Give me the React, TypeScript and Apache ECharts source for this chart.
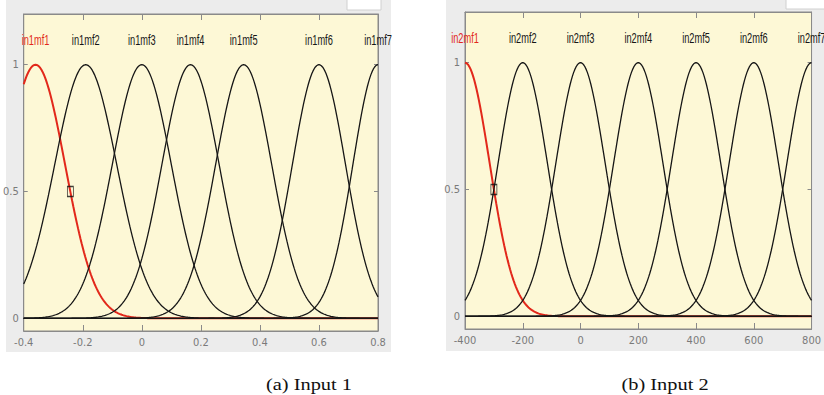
import React, { useEffect, useRef } from 'react';
import * as echarts from 'echarts';

// ---- Panel (a): Input 1 ----
const xRange1 = [-0.4, 0.8];
const xTicks1 = [-0.4, -0.2, 0, 0.2, 0.4, 0.6, 0.8];
const mfNames1 = ['in1mf1', 'in1mf2', 'in1mf3', 'in1mf4', 'in1mf5', 'in1mf6', 'in1mf7'];
const mfCenters1 = [-0.36, -0.19, 0, 0.165, 0.345, 0.6, 0.8];
const mfSigmas1 = [0.1, 0.105, 0.1, 0.097, 0.095, 0.09, 0.085];
const marker1 = [-0.242, 0.5];

// ---- Panel (b): Input 2 ----
const xRange2 = [-400, 800];
const xTicks2 = [-400, -200, 0, 200, 400, 600, 800];
const mfNames2 = ['in2mf1', 'in2mf2', 'in2mf3', 'in2mf4', 'in2mf5', 'in2mf6', 'in2mf7'];
const mfCenters2 = [-400, -200, 0, 200, 400, 600, 800];
const mfSigmas2 = [85, 85, 85, 85, 85, 85, 85];
const marker2 = [-300, 0.5];

// ---- shared ----
const yRange = [-0.05, 1.2];
const yTicks = [0, 0.5, 1];
const labelLevel = 1.095;
const captions = ['(a) Input 1', '(b) Input 2'];

const RED = '#e2281b';
const BLACK = '#161616';
const PLOT_BG = '#fdf8d6';
const PANEL_BG = '#ececec';
const FRAME = '#8a8a8a';
const TICK_TXT = '#7a7a7a';
const TICK_FONT = '"Liberation Sans Narrow", "Arial Narrow", "DejaVu Sans Condensed", sans-serif';

function gaussmf(x: number, sigma: number, c: number) {
  return Math.exp(-((x - c) * (x - c)) / (2 * sigma * sigma));
}

function curve(range: number[], sigma: number, c: number) {
  const n = 300;
  const pts: number[][] = [];
  for (let k = 0; k <= n; k++) {
    const x = range[0] + ((range[1] - range[0]) * k) / n;
    pts.push([x, gaussmf(x, sigma, c)]);
  }
  return pts;
}

function panelSeries(
  xi: number,
  yi: number,
  range: number[],
  names: string[],
  centers: number[],
  sigmas: number[],
  marker: number[]
) {
  const lines = centers.map((c, i) => ({
    type: 'line',
    name: names[i],
    xAxisIndex: xi,
    yAxisIndex: yi,
    showSymbol: false,
    symbol: 'none',
    z: i === 0 ? 2 : 3,
    lineStyle: { color: i === 0 ? RED : BLACK, width: i === 0 ? 2 : 1.3 },
    data: curve(range, sigmas[i], c),
  }));
  const labels = {
    type: 'custom',
    xAxisIndex: xi,
    yAxisIndex: yi,
    clip: false,
    z: 5,
    data: centers.map((c, i) => [c, labelLevel, i]),
    renderItem: (params: any, api: any) => {
      const p = api.coord([api.value(0), api.value(1)]);
      const i = api.value(2);
      return {
        type: 'text',
        x: p[0],
        y: p[1],
        scaleX: 0.66,
        style: {
          text: names[i],
          align: 'center',
          verticalAlign: 'middle',
          font: '14px "Liberation Sans", Arial, sans-serif',
          fill: i === 0 ? RED : BLACK,
        },
      };
    },
  };
  const mark = {
    type: 'scatter',
    xAxisIndex: xi,
    yAxisIndex: yi,
    z: 6,
    symbol: 'rect',
    symbolSize: [6, 10],
    itemStyle: { color: 'transparent', borderColor: '#111', borderWidth: 1 },
    data: [marker],
  };
  return [...lines, labels, mark];
}

function xAxes(gi: number, range: number[], ticks: number[]) {
  return [
    {
      type: 'value',
      gridIndex: gi,
      position: 'bottom',
      min: range[0],
      max: range[1],
      axisLine: { show: true, onZero: false, lineStyle: { color: FRAME } },
      axisTick: { show: true, inside: true, length: 6, customValues: ticks, lineStyle: { color: FRAME } },
      axisLabel: {
        show: true,
        customValues: ticks,
        margin: 6,
        color: TICK_TXT,
        fontSize: 11,
        fontFamily: TICK_FONT,
        formatter: (v: number) => String(v),
      },
      splitLine: { show: false },
    },
    {
      type: 'value',
      gridIndex: gi,
      position: 'top',
      min: range[0],
      max: range[1],
      axisLine: { show: true, onZero: false, lineStyle: { color: FRAME } },
      axisTick: { show: true, inside: true, length: 6, customValues: ticks, lineStyle: { color: FRAME } },
      axisLabel: { show: false },
      splitLine: { show: false },
    },
  ];
}

function yAxes(gi: number) {
  return [
    {
      type: 'value',
      gridIndex: gi,
      position: 'left',
      min: yRange[0],
      max: yRange[1],
      axisLine: { show: true, onZero: false, lineStyle: { color: FRAME } },
      axisTick: { show: true, inside: true, length: 4, customValues: yTicks, lineStyle: { color: FRAME } },
      axisLabel: {
        show: true,
        customValues: yTicks,
        margin: 5,
        color: TICK_TXT,
        fontSize: 11,
        fontFamily: TICK_FONT,
        formatter: (v: number) => String(v),
      },
      splitLine: { show: false },
    },
    {
      type: 'value',
      gridIndex: gi,
      position: 'right',
      min: yRange[0],
      max: yRange[1],
      axisLine: { show: true, onZero: false, lineStyle: { color: FRAME } },
      axisTick: { show: true, inside: true, length: 4, customValues: yTicks, lineStyle: { color: FRAME } },
      axisLabel: { show: false },
      splitLine: { show: false },
    },
  ];
}

export default function App() {
  const ref = useRef<HTMLDivElement>(null);
  useEffect(() => {
    if (!ref.current) return;
    const chart = echarts.init(ref.current, undefined, { renderer: 'svg' });
    chart.setOption({
      animation: false,
      backgroundColor: '#ffffff',
      graphic: [
        { type: 'rect', z: -10, shape: { x: 6, y: 0, width: 385, height: 352 }, style: { fill: PANEL_BG } },
        { type: 'rect', z: -10, shape: { x: 446, y: 0, width: 380, height: 351 }, style: { fill: PANEL_BG } },
        { type: 'rect', z: -9, shape: { x: 347, y: -2, width: 34, height: 12 }, style: { fill: '#ffffff', stroke: '#d0d0d0', lineWidth: 1 } },
        { type: 'rect', z: -9, shape: { x: 786, y: -2, width: 44, height: 11 }, style: { fill: '#ffffff', stroke: '#d0d0d0', lineWidth: 1 } },
        {
          type: 'text',
          x: 309,
          y: 384,
          scaleX: 1.2,
          style: { text: captions[0], align: 'center', verticalAlign: 'middle', font: '17px "Liberation Serif", "Times New Roman", serif', fill: '#111' },
        },
        {
          type: 'text',
          x: 665,
          y: 384,
          scaleX: 1.2,
          style: { text: captions[1], align: 'center', verticalAlign: 'middle', font: '17px "Liberation Serif", "Times New Roman", serif', fill: '#111' },
        },
      ],
      grid: [
        { left: 22, top: 14, width: 356, height: 317, show: true, backgroundColor: PLOT_BG, borderColor: FRAME, borderWidth: 1 },
        { left: 465, top: 12, width: 352, height: 317, show: true, backgroundColor: PLOT_BG, borderColor: FRAME, borderWidth: 1 },
      ],
      xAxis: [...xAxes(0, xRange1, xTicks1), ...xAxes(1, xRange2, xTicks2)],
      yAxis: [...yAxes(0), ...yAxes(1)],
      series: [
        ...panelSeries(0, 0, xRange1, mfNames1, mfCenters1, mfSigmas1, marker1),
        ...panelSeries(2, 2, xRange2, mfNames2, mfCenters2, mfSigmas2, marker2),
      ],
    });
    return () => chart.dispose();
  }, []);
  return (
    <div
      ref={ref}
      style={{ position: 'fixed', left: 0, top: 0, width: 824, height: 395, background: '#fff' }}
    />
  );
}
